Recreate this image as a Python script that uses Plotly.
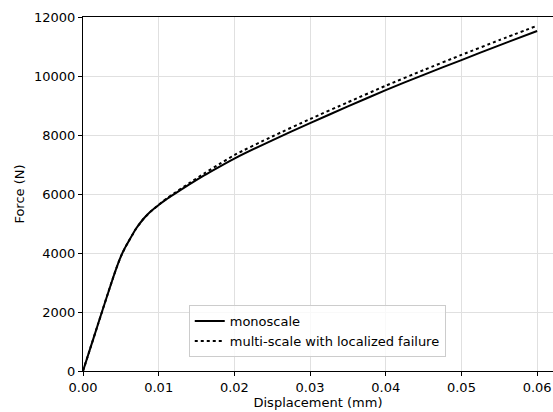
import plotly.graph_objects as go

# Displacement (mm)
disp = [0.0, 0.001, 0.002, 0.003, 0.004, 0.0045, 0.005, 0.0055, 0.006, 0.007,
        0.008, 0.009, 0.010, 0.011, 0.012, 0.014, 0.016, 0.018, 0.020, 0.025,
        0.030, 0.035, 0.040, 0.045, 0.050, 0.055, 0.060]
# Force (N) - monoscale
force_mono = [0, 800, 1600, 2400, 3180, 3550, 3880, 4150, 4380, 4820,
              5160, 5420, 5630, 5820, 5990, 6315, 6630, 6920, 7200, 7820,
              8400, 8970, 9520, 10040, 10540, 11040, 11525]
# Force (N) - multi-scale with localized failure
force_multi = [0, 800, 1600, 2400, 3180, 3550, 3880, 4150, 4380, 4820,
               5160, 5420, 5635, 5835, 6015, 6360, 6695, 7010, 7320, 7950,
               8540, 9110, 9670, 10200, 10715, 11215, 11705]

x_ticks = [0.0, 0.01, 0.02, 0.03, 0.04, 0.05, 0.06]
y_ticks = [0, 2000, 4000, 6000, 8000, 10000, 12000]

fig = go.Figure()
fig.add_trace(go.Scatter(x=disp, y=force_mono, mode="lines", name="monoscale",
                         line=dict(color="black", width=2, shape="spline", smoothing=0.6)))
fig.add_trace(go.Scatter(x=disp, y=force_multi, mode="lines",
                         name="multi-scale with localized failure",
                         line=dict(color="black", width=2, dash="dot", shape="spline", smoothing=0.6)))

font = dict(family="DejaVu Sans", size=13, color="black")
fig.update_layout(
    width=553, height=412,
    margin=dict(l=83, r=0, t=17, b=41, autoexpand=False),
    paper_bgcolor="white", plot_bgcolor="white",
    font=font,
    showlegend=True,
    legend=dict(x=0.225, y=0.186, xanchor="left", yanchor="top",
                bgcolor="rgba(255,255,255,0.8)", bordercolor="#cccccc", borderwidth=1,
                font=dict(family="DejaVu Sans", size=13, color="black"),
                tracegroupgap=0),
    xaxis=dict(range=[0, 0.0621], tickvals=x_ticks, tickformat=".2f",
               showgrid=True, gridcolor="#e0e0e0", gridwidth=1,
               showline=True, linecolor="black", linewidth=1.2, mirror=True,
               ticks="outside", ticklen=4, tickcolor="black",
               zeroline=False, automargin=False,
               title=dict(text="Displacement (mm)", standoff=4, font=font)),
    yaxis=dict(range=[0, 12000], tickvals=y_ticks, tickformat="d",
               showgrid=True, gridcolor="#e0e0e0", gridwidth=1,
               showline=True, linecolor="black", linewidth=1.2,
               ticks="outside", ticklen=4, tickcolor="black",
               zeroline=False, automargin=False,
               title=dict(text="Force (N)", standoff=6, font=font)),
)

fig.write_html("out.html", config={"displayModeBar": False},
               post_script="document.body.style.margin='0';document.body.style.padding='0';")
